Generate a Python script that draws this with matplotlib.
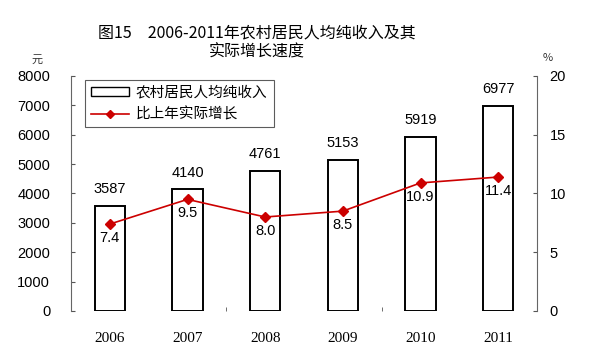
import numpy as np
import matplotlib.pyplot as plt
from matplotlib.lines import Line2D
from matplotlib.patches import Patch

plt.rcParams['font.family'] = ['Noto Sans CJK SC', 'DejaVu Sans']

# data
years = ['2006', '2007', '2008', '2009', '2010', '2011']
income = [3587, 4140, 4761, 5153, 5919, 6977]
growth = [7.4, 9.5, 8.0, 8.5, 10.9, 11.4]
growth_labels = ['7.4', '9.5', '8.0', '8.5', '10.9', '11.4']

fig = plt.figure(figsize=(6, 3.54), dpi=100)
ax = fig.add_axes([71 / 600, 1 - 311 / 354, 466 / 600, 235 / 354])
ax2 = ax.twinx()

x = np.arange(len(years))
ax.bar(x, income, width=0.39, color='white', edgecolor='black', linewidth=1.4, zorder=2)
for xi, v in zip(x, income):
    ax.annotate(str(v), (xi, v), xytext=(0, 7), textcoords='offset points',
                ha='center', va='bottom', fontsize=10.5, family='Liberation Sans')

ax.set_xlim(-0.5, len(years) - 0.5)
ax.set_ylim(0, 8000)
ax.set_yticks(range(0, 8001, 1000))
ax.set_xticks(x)
ax.set_xticklabels(years, family='Liberation Serif', fontsize=11)
ax.set_xticks([1.5, 3.5], minor=True)
ax.tick_params(axis='x', which='major', length=0, pad=15)
ax.tick_params(axis='x', which='minor', length=3, direction='in', color='#555555')
ax.tick_params(axis='y', length=3, direction='in', color='#555555', pad=15, labelsize=10.5)
for lab in ax.get_yticklabels():
    lab.set_family('Liberation Sans')

ax2.plot(x, growth, color='#cc0000', linewidth=1.2, marker='D', markersize=5.5, zorder=3)
for xi, v, s in zip(x, growth, growth_labels):
    ax2.annotate(s, (xi, v), xytext=(0, -5), textcoords='offset points',
                 ha='center', va='top', fontsize=10.5, family='Liberation Sans')
ax2.set_ylim(0, 20)
ax2.set_yticks([0, 5, 10, 15, 20])
ax2.tick_params(axis='y', length=3, direction='in', color='#555555', pad=9, labelsize=10.5)
for lab in ax2.get_yticklabels():
    lab.set_family('Liberation Sans')

for a in (ax, ax2):
    a.spines['top'].set_visible(False)
    a.spines['bottom'].set_visible(False)
    a.spines['left'].set_color('#666666')
    a.spines['right'].set_color('#666666')
ax2.spines['left'].set_visible(False)
ax.spines['right'].set_visible(False)

handles = [Patch(facecolor='white', edgecolor='black', linewidth=1.0),
           Line2D([], [], color='#cc0000', marker='D', markersize=4.5, linewidth=1.2)]
leg = ax.legend(handles, ['农村居民人均纯收入', '比上年实际增长'], loc='upper left',
                bbox_to_anchor=(14 / 466, 1 - 4 / 235), fontsize=10.5, frameon=True,
                fancybox=False, edgecolor='#333333', handlelength=2.6, handleheight=0.6,
                borderpad=0.4, labelspacing=0.5, handletextpad=0.5, borderaxespad=0)
leg.get_frame().set_linewidth(0.8)

fig.text(257 / 600, 1 - 33 / 354, '图15　2006-2011年农村居民人均纯收入及其',
         ha='center', va='center', fontsize=11.5, fontweight='medium')
fig.text(257 / 600, 1 - 52 / 354, '实际增长速度',
         ha='center', va='center', fontsize=11.5, fontweight='medium')
fig.text(37 / 600, 1 - 60 / 354, '元', ha='center', va='center', fontsize=8, color='#333333')
fig.text(548 / 600, 1 - 58 / 354, '%', ha='center', va='center', fontsize=8, color='#333333')

fig.savefig('out.png', dpi=100)
